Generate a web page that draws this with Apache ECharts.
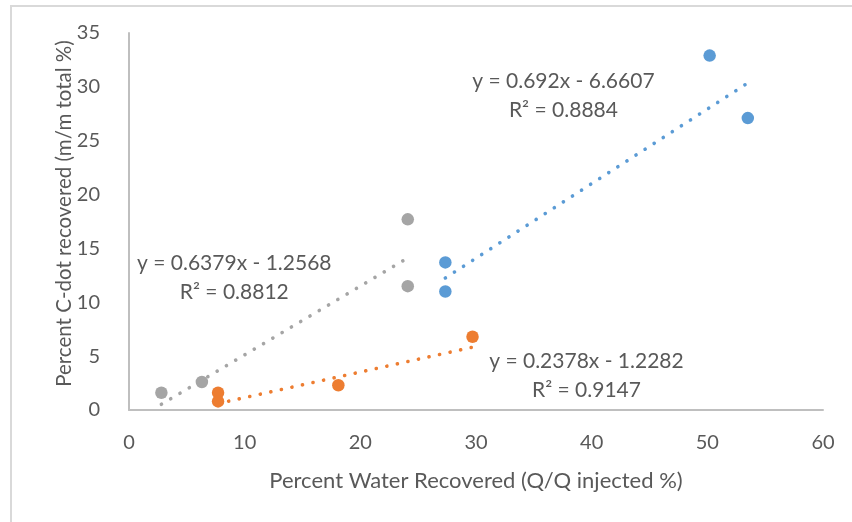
<!DOCTYPE html>
<html>
<head>
<meta charset="utf-8">
<script src="https://cdn.jsdelivr.net/npm/echarts@6/dist/echarts.min.js"></script>
<style>
html,body{margin:0;padding:0;background:#fff;}
#c{width:852px;height:522px;}
</style>
</head>
<body>
<div id="c"></div>
<script>
// Series points (x = % water recovered, y = % C-dot recovered)
var blueX = [27.35, 27.35, 50.2, 53.5];
var blueY = [13.7, 11.0, 32.9, 27.1];
var orangeX = [7.7, 7.7, 18.1, 29.7];
var orangeY = [1.6, 0.8, 2.3, 6.8];
var grayX = [2.8, 6.3, 24.1, 24.1];
var grayY = [1.6, 2.6, 17.7, 11.5];

// Linear trendline endpoints (as drawn)
var blueTrendX = [27.35, 53.5];
var blueTrendY = [12.26, 30.36];
var orangeTrendX = [7.7, 29.7];
var orangeTrendY = [0.6, 5.83];
var grayTrendX = [2.8, 24.1];
var grayTrendY = [0.53, 14.12];

// Trendline equation labels and their anchor (data coords)
var blueEq = ['y = 0.692x - 6.6607', 'R² = 0.8884'];
var blueEqAt = [37.56, 29.15];
var orangeEq = ['y = 0.2378x - 1.2282', 'R² = 0.9147'];
var orangeEqAt = [39.55, 3.2];
var grayEq = ['y = 0.6379x - 1.2568', 'R² = 0.8812'];
var grayEqAt = [9.1, 12.26];

var xTicks = [0, 10, 20, 30, 40, 50, 60];
var yTicks = [0, 5, 10, 15, 20, 25, 30, 35];

var xName = 'Percent Water Recovered (Q/Q injected %)';
var yName = 'Percent C-dot recovered (m/m total %)';

var BLUE = '#5B9BD5', ORANGE = '#ED7D31', GRAY = '#A5A5A5', TXT = '#595959';
var FONT = 'Lato';

function zip(a, b) { return a.map(function (v, i) { return [v, b[i]]; }); }

function scatter(name, xs, ys, color) {
  return {
    name: name, type: 'scatter', data: zip(xs, ys), symbolSize: 12.5, z: 5,
    itemStyle: { color: color, opacity: 1 }
  };
}
function trend(name, xs, ys, color, eq, at) {
  return {
    name: name + ' trend', type: 'line', data: zip(xs, ys), symbol: 'none', z: 3,
    silent: true,
    lineStyle: { color: color, width: 3.6, type: [0.1, 10.7], cap: 'round' },
    markPoint: {
      symbol: 'circle', symbolSize: 0, silent: true,
      data: [{ coord: at, value: 0 }],
      label: {
        show: true, position: 'inside', formatter: eq.join('\n'),
        color: TXT, fontFamily: FONT, fontSize: 21, lineHeight: 29, align: 'center'
      }
    }
  };
}

var chart = echarts.init(document.getElementById('c'), null, { renderer: 'canvas' });
chart.setOption({
  animation: false,
  backgroundColor: '#fff',
  graphic: [{
    type: 'rect', shape: { x: 11, y: 6, width: 900, height: 600 },
    style: { fill: 'none', stroke: '#d9d9d9', lineWidth: 2 }, silent: true, z: -1
  }],
  grid: { left: 129, right: 29, top: 33, bottom: 112, containLabel: false },
  xAxis: {
    type: 'value', min: xTicks[0], max: xTicks[xTicks.length - 1], interval: 10,
    name: xName, nameLocation: 'middle', nameGap: 60, nameMoveOverlap: false,
    nameTextStyle: { color: TXT, fontFamily: FONT, fontSize: 22 },
    axisLine: { show: true, lineStyle: { color: '#bfbfbf', width: 2 } },
    axisTick: { show: false },
    splitLine: { show: false },
    axisLabel: { color: TXT, fontFamily: FONT, fontSize: 20, margin: 23 }
  },
  yAxis: {
    type: 'value', min: yTicks[0], max: yTicks[yTicks.length - 1], interval: 5,
    name: yName, nameLocation: 'middle', nameGap: 54, nameRotate: 90, nameMoveOverlap: false,
    nameTextStyle: { color: TXT, fontFamily: FONT, fontSize: 20.5, padding: [0, 0, 0, 16] },
    axisLine: { show: true, lineStyle: { color: '#bfbfbf', width: 2 } },
    axisTick: { show: false },
    splitLine: { show: false },
    axisLabel: { color: TXT, fontFamily: FONT, fontSize: 20, margin: 29 }
  },
  series: [
    trend('gray', grayTrendX, grayTrendY, GRAY, grayEq, grayEqAt),
    trend('orange', orangeTrendX, orangeTrendY, ORANGE, orangeEq, orangeEqAt),
    trend('blue', blueTrendX, blueTrendY, BLUE, blueEq, blueEqAt),
    scatter('gray', grayX, grayY, GRAY),
    scatter('orange', orangeX, orangeY, ORANGE),
    scatter('blue', blueX, blueY, BLUE)
  ]
});
</script>
</body>
</html>
